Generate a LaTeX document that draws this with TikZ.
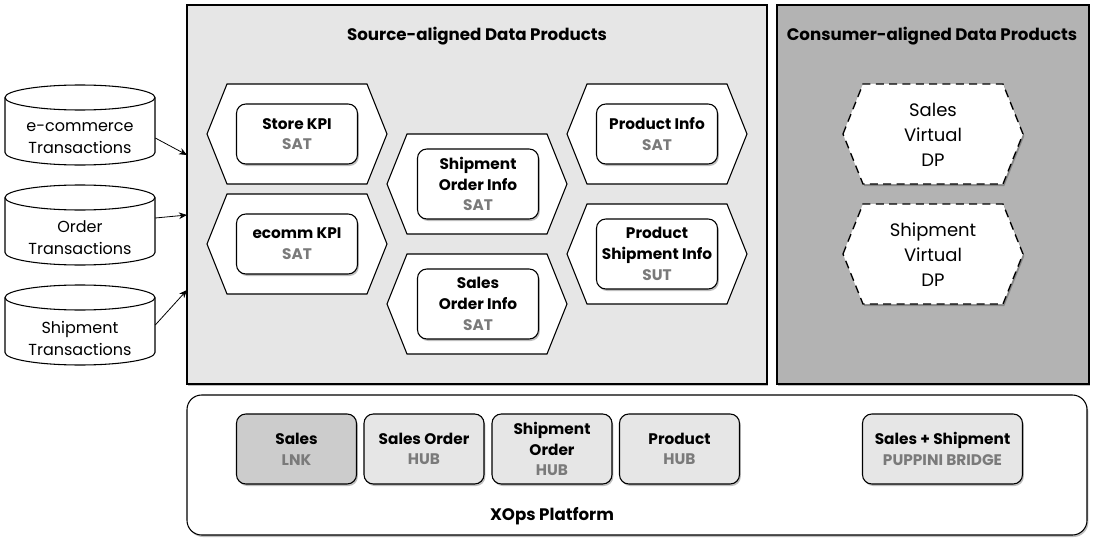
\documentclass[tikz,border=0pt]{standalone}
\usepackage{fontspec}
\setmainfont{Poppins}
\usetikzlibrary{shadows,arrows.meta,calc}
\definecolor{lgray}{HTML}{E6E6E6}
\definecolor{dgray}{HTML}{B3B3B3}
\definecolor{lnkgray}{HTML}{CCCCCC}
\definecolor{subgray}{HTML}{7A7A7A}
\newcommand\sub[1]{\textcolor{subgray}{#1}}
\newcommand\myhex[4]{%
  \path[#4] (#2-90,#3) -- (#2-70,#3-50) -- (#2+70,#3-50) -- (#2+90,#3) -- (#2+70,#3+50) -- (#2-70,#3+50) -- cycle;
  \coordinate (#1) at (#2,#3);}
\tikzset{
  shad/.style={drop shadow={shadow xshift=1pt,shadow yshift=-1.5pt,opacity=0.25,fill=black}},
  panel/.style={draw,line width=0.8pt,shad},
  hexsrc/.style={draw,fill=white,line width=0.8pt},
  hexdp/.style={draw,fill=white,line width=1pt,dash pattern=on 6pt off 4pt,shad},
  inbox/.style={draw,fill=white,rounded corners=7pt,line width=0.8pt,shad,
    minimum width=90.75pt,align=center,font=\fontsize{11.5}{15.5}\selectfont\bfseries,inner sep=0pt},
  botbox/.style={draw,fill=lgray,rounded corners=7pt,line width=0.8pt,shad,
    minimum width=90pt,minimum height=52.5pt,align=center,font=\fontsize{11.5}{15.5}\selectfont\bfseries,inner sep=0pt},
  title/.style={font=\fontsize{12.5}{15}\selectfont\bfseries},
  plain/.style={align=center,font=\fontsize{12}{16.5}\selectfont},
  dptext/.style={align=center,font=\fontsize{13.5}{18.75}\selectfont},
  arr/.style={-{Stealth[length=6pt,width=5pt]},line width=0.6pt},
  cyl/.style={draw,fill=white,line width=0.8pt},
}
\begin{document}
\begin{tikzpicture}[x=0.75pt,y=-0.75pt]
\useasboundingbox (0,0) rectangle (1096,542);
% panels
\node[panel,fill=lgray,minimum width=435pt,minimum height=284.25pt,inner sep=0pt] (src) at (477,194.5) {};
\node[panel,fill=dgray,minimum width=234pt,minimum height=284.25pt,inner sep=0pt] (cons) at (933,194.5) {};
\node[panel,fill=white,rounded corners=11pt,minimum width=675pt,minimum height=105pt,inner sep=0pt] (plat) at (637,465) {};
\node[title] (srct) at (477,36) {Source-aligned Data Products};
\node[title] (const) at (932,36) {Consumer-aligned Data Products};
\node[title] (platt) at (552,516) {XOps Platform};
% cylinders
\foreach \i/\cy in {1/125,2/225,3/325}{
  \node[minimum width=112.5pt,minimum height=60pt,inner sep=0pt] (cyl\i) at (80,\cy) {};
  \path[cyl] (5,\cy-27.5) -- (5,\cy+27.5)
     .. controls (5,\cy+34.4) and (38.6,\cy+40) .. (80,\cy+40)
     .. controls (121.4,\cy+40) and (155,\cy+34.4) .. (155,\cy+27.5)
     -- (155,\cy-27.5)
     .. controls (155,\cy-34.4) and (121.4,\cy-40) .. (80,\cy-40)
     .. controls (38.6,\cy-40) and (5,\cy-34.4) .. (5,\cy-27.5) -- cycle;
  \draw[line width=0.8pt] (5,\cy-27.5)
     .. controls (5,\cy-20.6) and (38.6,\cy-15) .. (80,\cy-15)
     .. controls (121.4,\cy-15) and (155,\cy-20.6) .. (155,\cy-27.5);
}
\node[plain] (t1) at (80,138) {e-commerce\\Transactions};
\node[plain] (t2) at (80,238) {Order\\Transactions};
\node[plain] (t3) at (80,338) {Shipment\\Transactions};
\coordinate (a1) at (187,155);
\coordinate (a2) at (187,215);
\coordinate (a3) at (187,290);
\draw[arr] ($(cyl1.east)+(0,13)$) -- (a1);
\draw[arr] ($(cyl2.east)+(0,-7)$) -- (a2);
\draw[arr] (cyl3.east) -- (a3);
% source hexagons
\myhex{h1}{297}{134}{hexsrc}
\myhex{h2}{297}{244}{hexsrc}
\myhex{h3}{477}{184}{hexsrc}
\myhex{h4}{477}{304}{hexsrc}
\myhex{h5}{657}{134}{hexsrc}
\myhex{h6}{657}{254}{hexsrc}
\node[inbox,minimum height=45pt] (s1) at (297,134) {Store KPI\\\sub{SAT}};
\node[inbox,minimum height=45pt] (s2) at (297,244) {ecomm KPI\\\sub{SAT}};
\node[inbox,minimum height=52.5pt] (s3) at (478,184) {Shipment\\Order Info\\\sub{SAT}};
\node[inbox,minimum height=52.5pt] (s4) at (478,304) {Sales\\Order Info\\\sub{SAT}};
\node[inbox,minimum height=45pt] (s5) at (657,134) {Product Info\\\sub{SAT}};
\node[inbox,minimum height=52.5pt] (s6) at (657,254) {Product\\Shipment Info\\\sub{SUT}};
% consumer hexagons
\myhex{d1}{933}{134}{hexdp}
\myhex{d2}{933}{254}{hexdp}
\node[dptext] (dt1) at (933,135) {Sales\\Virtual\\DP};
\node[dptext] (dt2) at (933,255) {Shipment\\Virtual\\DP};
% platform boxes
\node[botbox,fill=lnkgray] (b1) at (296.5,449) {Sales\\\sub{LNK}};
\node[botbox] (b2) at (424,449) {Sales Order\\\sub{HUB}};
\node[botbox] (b3) at (552,449) {Shipment\\Order\\\sub{HUB}};
\node[botbox] (b4) at (679.5,449) {Product\\\sub{HUB}};
\node[botbox,minimum width=120pt] (b5) at (942.5,449) {Sales + Shipment\\\sub{PUPPINI BRIDGE}};
\end{tikzpicture}
\end{document}
